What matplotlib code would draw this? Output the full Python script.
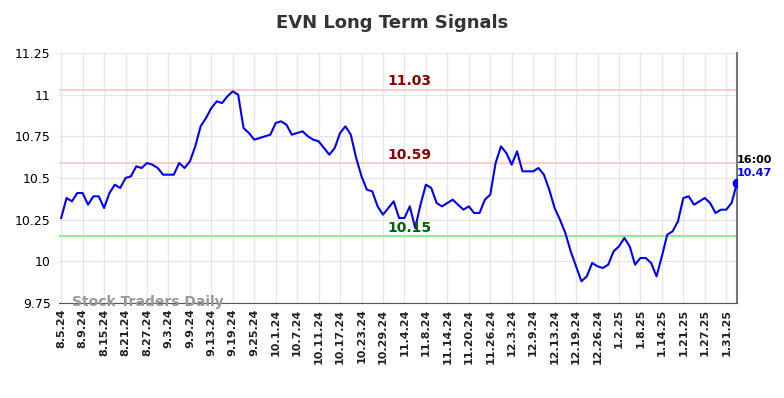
import matplotlib
matplotlib.use("Agg")
from matplotlib import pyplot as plt

# closing prices, one per trading day from 8.5.24
prices = [10.26, 10.38, 10.36, 10.41, 10.41, 10.34, 10.39, 10.39, 10.32, 10.41,
          10.46, 10.44, 10.50, 10.51, 10.57, 10.56, 10.59, 10.58, 10.56, 10.52,
          10.52, 10.52, 10.59, 10.56, 10.60, 10.69, 10.81, 10.86, 10.92, 10.96,
          10.95, 10.99, 11.02, 11.00, 10.80, 10.77, 10.73, 10.74, 10.75, 10.76,
          10.83, 10.84, 10.82, 10.76, 10.77, 10.78, 10.75, 10.73, 10.72, 10.68,
          10.64, 10.68, 10.77, 10.81, 10.76, 10.62, 10.51, 10.43, 10.42, 10.33,
          10.28, 10.32, 10.36, 10.26, 10.26, 10.33, 10.20, 10.34, 10.46, 10.44,
          10.35, 10.33, 10.35, 10.37, 10.34, 10.31, 10.33, 10.29, 10.29, 10.37,
          10.40, 10.59, 10.69, 10.65, 10.58, 10.66, 10.54, 10.54, 10.54, 10.56,
          10.52, 10.43, 10.32, 10.25, 10.17, 10.06, 9.97, 9.88, 9.91, 9.99,
          9.97, 9.96, 9.98, 10.06, 10.09, 10.14, 10.09, 9.98, 10.02, 10.02,
          9.99, 9.91, 10.03, 10.16, 10.18, 10.24, 10.38, 10.39, 10.34, 10.36,
          10.38, 10.35, 10.29, 10.31, 10.31, 10.35, 10.47]

tick_labels = ['8.5.24', '8.9.24', '8.15.24', '8.21.24', '8.27.24', '9.3.24', '9.9.24',
               '9.13.24', '9.19.24', '9.25.24', '10.1.24', '10.7.24', '10.11.24',
               '10.17.24', '10.23.24', '10.29.24', '11.4.24', '11.8.24', '11.14.24',
               '11.20.24', '11.26.24', '12.3.24', '12.9.24', '12.13.24', '12.19.24',
               '12.26.24', '1.2.25', '1.8.25', '1.14.25', '1.21.25', '1.27.25', '1.31.25']

resistance_hi = 11.03
resistance_lo = 10.59
support = 10.15
last_time = '16:00'

fig = plt.figure(figsize=(7.84, 3.98), dpi=100)
ax = fig.add_axes([0.0753, 0.2387, 0.8647, 0.6281])

x = list(range(len(prices)))
ax.plot(x, prices, color='#0000ff', lw=1.5, zorder=3)
ax.plot(x[-1], prices[-1], 'o', color='#0000ff', ms=6, zorder=4)

ax.axhline(resistance_hi, color='#ffcccc', lw=1.5, zorder=2)
ax.axhline(resistance_lo, color='#ffcccc', lw=1.5, zorder=2)
ax.axhline(support, color='#90ee90', lw=1.5, zorder=2)

lx = 65
ax.text(lx, resistance_hi + 0.01, '11.03', color='#8b0000', fontsize=10,
        fontweight='bold', ha='center', va='bottom')
ax.text(lx, resistance_lo + 0.005, '10.59', color='#8b0000', fontsize=10,
        fontweight='bold', ha='center', va='bottom')
ax.text(lx, support + 0.01, '10.15', color='#006400', fontsize=10,
        fontweight='bold', ha='center', va='bottom')

ax.text(x[-1], 10.608, last_time, color='black', fontsize=8,
        fontweight='bold', ha='left', va='center', clip_on=False)
ax.text(x[-1], 10.53, '10.47', color='#0000ff', fontsize=8,
        fontweight='bold', ha='left', va='center', clip_on=False)

ax.text(2, 9.757, 'Stock Traders Daily', color='#999999', fontsize=10,
        fontweight='bold', ha='left', va='center', zorder=5)

ax.set_xlim(-0.4, x[-1])
ax.set_ylim(9.75, 11.25)
ax.set_xticks(range(0, 4 * len(tick_labels), 4))
ax.set_xticklabels(tick_labels, rotation=90, fontsize=8, fontweight='bold')
ax.set_yticks([9.75, 10, 10.25, 10.5, 10.75, 11, 11.25])
ax.set_yticklabels(['9.75', '10', '10.25', '10.5', '10.75', '11', '11.25'], fontsize=9)
ax.tick_params(length=0, pad=6)
ax.tick_params(axis='x', pad=4, colors='#222222')

ax.grid(True, color='#e6e6e6', lw=1)
for s in ['top', 'left']:
    ax.spines[s].set_visible(False)
ax.spines['bottom'].set_color('#555555')
ax.spines['right'].set_color('#777777')
ax.spines['right'].set_linewidth(1.5)

fig.suptitle('EVN Long Term Signals', x=0.5, y=0.965, fontsize=13,
             fontweight='bold', color='#333333')

plt.savefig('out.png', dpi=100)
